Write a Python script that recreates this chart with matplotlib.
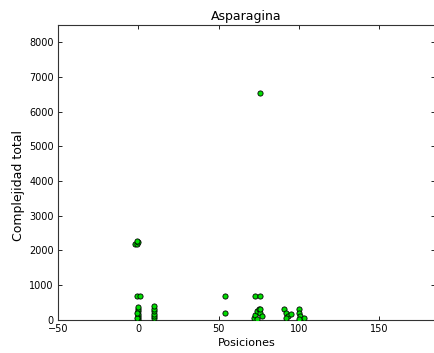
import matplotlib
matplotlib.use("Agg")
import matplotlib.pyplot as plt

title = "Asparagina"
xlabel = "Posiciones"
ylabel = "Complejidad total"

pos_x = [-2, -1, 0, -1, -1, 1,
         0, 0, 0, 0, 0, 0, 0, -1, -1,
         10, 10, 10, 10, 10, 10,
         54, 54,
         73, 76, 76,
         72, 73, 74, 75, 76, 77, 74, 76,
         91, 92, 93, 95, 92,
         100, 100, 101, 103, 100]
complexity = [2200, 2200, 2230, 2270, 700, 700,
              0, 60, 120, 180, 250, 320, 380, 50, 200,
              40, 110, 180, 250, 320, 400,
              700, 200,
              700, 700, 6550,
              50, 150, 250, 300, 200, 100, 30, 320,
              300, 200, 120, 180, 50,
              300, 200, 100, 50, 30]

fig = plt.figure(figsize=(4.35, 3.53), dpi=100)
ax = fig.add_axes([0.133, 0.094, 0.868, 0.835])
ax.scatter(pos_x, complexity, s=14, c="#00dd00", edgecolors="black", linewidths=0.6, zorder=3)
ax.set_xlim(-50, 185)
ax.set_ylim(0, 8500)
ax.set_xticks([-50, 0, 50, 100, 150])
ax.set_yticks(range(0, 8001, 1000))
ax.tick_params(direction="in", length=3, width=0.6, labelsize=7, top=True, right=True, pad=3)
for s in ax.spines.values():
    s.set_linewidth(0.8)
    s.set_color("#333333")
ax.set_title(title, fontsize=9, pad=4)
ax.set_xlabel(xlabel, fontsize=8, labelpad=3)
ax.set_ylabel(ylabel, fontsize=9)
ax.yaxis.set_label_coords(-0.088, 0.455)
fig.savefig("out.png", dpi=100)
